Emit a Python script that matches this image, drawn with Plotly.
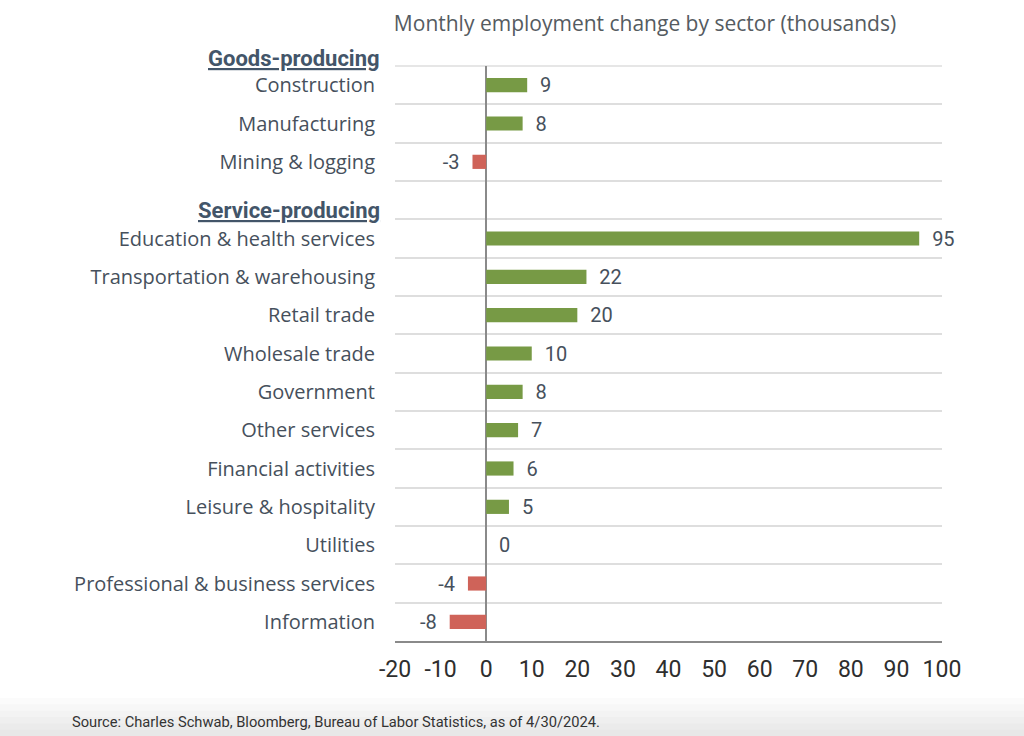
import plotly.graph_objects as go

# ---- data ----
categories = [
    "Construction", "Manufacturing", "Mining & logging", " ",
    "Education & health services", "Transportation & warehousing",
    "Retail trade", "Wholesale trade", "Government", "Other services",
    "Financial activities", "Leisure & hospitality", "Utilities",
    "Professional & business services", "Information",
]
values = [9, 8, -3, None, 95, 22, 20, 10, 8, 7, 6, 5, 0, -4, -8]
group_headers = ["Goods-producing", "Service-producing"]
x_ticks = [-20, -10, 0, 10, 20, 30, 40, 50, 60, 70, 80, 90, 100]
title_text = "Monthly employment change by sector (thousands)"
source_text = "Source: Charles Schwab, Bloomberg, Bureau of Labor Statistics, as of 4/30/2024."

GREEN = "#779a45"
RED = "#cf6359"
LABEL = "#46505c"
HEADER = "#435569"
GRID = "#dedede"

cats = [c for c, v in zip(categories, values) if v is not None]
vals = [v for v in values if v is not None]
colors = [GREEN if v > 0 else RED for v in vals]
texts = [("\u00a0\u00a0" + str(v)) if v >= 0 else (str(v) + "\u00a0\u00a0") for v in vals]

fig = go.Figure(go.Bar(
    x=vals, y=cats, orientation="h",
    marker=dict(color=colors, line=dict(width=0)),
    width=0.37,
    text=texts, textposition="outside", cliponaxis=False, constraintext="none",
    textfont=dict(size=20, color=LABEL, family="Roboto"),
    hoverinfo="skip",
))

fig.update_layout(
    width=1024, height=736,
    margin=dict(l=395, r=82, t=66, b=95, autoexpand=False),
    plot_bgcolor="white", paper_bgcolor="white",
    showlegend=False,
    font=dict(family="Open Sans", color=LABEL),
    title=dict(text=title_text, x=645 / 1024, xref="container", xanchor="center",
               y=1 - 24 / 736, yref="container", yanchor="middle",
               font=dict(size=21, color="#555b61", family="Open Sans")),
    xaxis=dict(range=[-20, 100], tickvals=x_ticks, ticktext=[str(t) for t in x_ticks],
               showgrid=False,
               zeroline=True, zerolinecolor="#8a8a8a", zerolinewidth=2,
               showline=True, linecolor="#8a8a8a", linewidth=2,
               ticks="", ticklabelstandoff=6,
               tickfont=dict(size=23, color="#2e2e2e", family="Roboto")),
    yaxis=dict(categoryorder="array", categoryarray=categories, type="category",
               range=[len(categories) - 0.5, -0.5],
               tickson="boundaries", showgrid=True, gridcolor=GRID, gridwidth=1.5,
               ticks="", ticklabelstandoff=19,
               tickfont=dict(size=20, color=LABEL, family="Open Sans")),
)

def px_x(px):
    return (px - 395) / 547

def px_y(py):
    return (641 - py) / 575

# top boundary gridline
fig.add_shape(type="line", xref="paper", yref="paper", x0=0, x1=1, y0=1, y1=1,
              layer="below", line=dict(color=GRID, width=1.5))

header_pos = [(382, 59), (382, 210)]
for h, (hx, hy) in zip(group_headers, header_pos):
    fig.add_annotation(
        text='<b><span style="text-decoration:underline">' + h + '</span></b>',
        xref="paper", yref="paper", x=px_x(hx), y=px_y(hy),
        xanchor="right", yanchor="middle", showarrow=False,
        font=dict(size=22, color=HEADER, family="Roboto"),
    )

# light grey band at the bottom
steps = ["#fbfbfb", "#f7f7f7", "#f3f3f3", "#efefef", "#ebebeb", "#e8e8e8"]
top, bottom = 698, 736
h = (bottom - top) / len(steps)
for i, c in enumerate(steps):
    fig.add_shape(type="rect", xref="paper", yref="paper", layer="below",
                  x0=px_x(0), x1=px_x(1024), y0=px_y(top + i * h), y1=px_y(top + (i + 1) * h + 0.5),
                  fillcolor=c, line=dict(width=0))

fig.add_annotation(text=source_text, xref="paper", yref="paper",
                   x=px_x(70), y=px_y(722), xanchor="left", yanchor="middle",
                   showarrow=False, font=dict(size=14.7, color="#333333", family="Roboto"))

fig.write_html("out.html", config={"displayModeBar": False})

# remove the default page margin so the figure fills the window exactly
with open("out.html", encoding="utf-8") as f:
    html = f.read()
html = html.replace("<head>", "<head><style>html,body{margin:0;padding:0;overflow:hidden;}</style>", 1)
with open("out.html", "w", encoding="utf-8") as f:
    f.write(html)
